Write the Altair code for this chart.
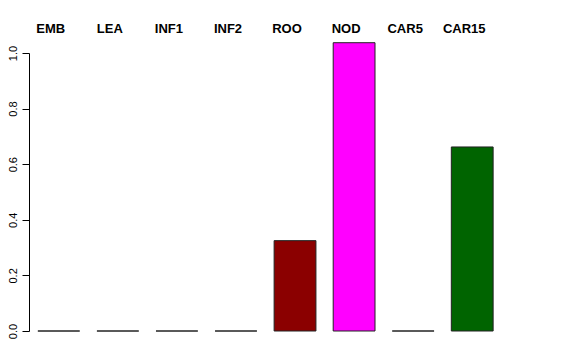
import altair as alt
import pandas as pd

categories = ["EMB", "LEA", "INF1", "INF2", "ROO", "NOD", "CAR5", "CAR15"]
values = [0.0, 0.0, 0.0, 0.0, 0.325, 1.037, 0.0, 0.662]
colors = ["#FFFFFF", "#FFFFFF", "#FFFFFF", "#FFFFFF", "#8B0000", "#FF00FF", "#FFFFFF", "#006400"]
y_ticks = [0.0, 0.2, 0.4, 0.6, 0.8, 1.0]

df = pd.DataFrame({"cat": categories, "val": values, "col": colors})

xscale = alt.Scale(domain=categories, paddingInner=0.292, paddingOuter=0.15)
yscale = alt.Scale(domain=[0, 1], nice=False, zero=True)

bars = alt.Chart(df).mark_bar(stroke="#222222", strokeWidth=1, clip=False).encode(
    x=alt.X("cat:N", scale=xscale, axis=None, sort=categories),
    y=alt.Y("val:Q", scale=yscale, axis=alt.Axis(
        values=y_ticks, format=".1f", labelAngle=-90, tickSize=7,
        labelFont="Liberation Sans", labelFontSize=11, labelColor="black",
        tickColor="black", domainColor="black", grid=False, title=None,
        labelPadding=9, labelBaseline="middle", labelAlign="center",
        labelFlush=False, labelOverlap=False,
    )),
    color=alt.Color("col:N", scale=None),
)

labels = alt.Chart(df).mark_text(
    font="Liberation Sans", fontWeight="bold", fontSize=13, color="black",
    dx=-8, baseline="middle", clip=False,
).encode(
    x=alt.X("cat:N", scale=xscale, sort=categories),
    y=alt.value(-24),
    text="cat:N",
)

chart = alt.layer(bars, labels).properties(
    width=473, height=278,
    background="white",
    autosize=alt.AutoSizeParams(type="none"),
    padding={"left": 29, "top": 53, "right": 74, "bottom": 29},
).configure_view(stroke=None)

chart.save("out.html", embed_options={"renderer": "svg", "actions": False})
